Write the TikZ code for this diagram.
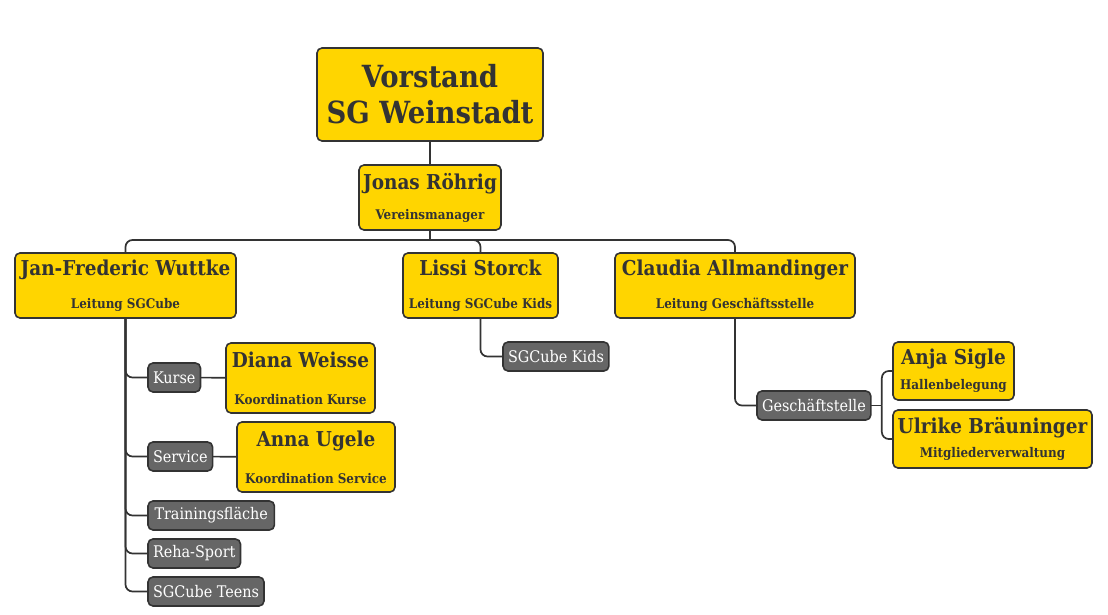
\documentclass[tikz,border=0pt]{standalone}
\usepackage{fontspec}
\setmainfont{DejaVu Serif Condensed}
\definecolor{gelb}{HTML}{FFD500}
\definecolor{grau}{HTML}{666666}
\definecolor{rand}{HTML}{333333}
\newcommand{\namefont}{\fontsize{20.5}{23}\selectfont\bfseries}
\newcommand{\nm}[1]{\raisebox{-2pt}{\namefont #1}}

\begin{document}
\begin{tikzpicture}[x=1pt, y=-1pt,
  every node/.style={outer sep=0pt, text=rand},
  person/.style={draw=rand, fill=gelb, line width=1.6pt, rounded corners=5pt, align=center, inner sep=0pt, font=\fontsize{13.3}{#1}\selectfont\bfseries},
  bereich/.style={draw=rand, fill=grau, text=white, line width=1.6pt, rounded corners=5pt, anchor=west, minimum height=29pt, inner xsep=5pt, font=\fontsize{16}{18}\selectfont},
  linie/.style={draw=rand, line width=1.7pt, rounded corners=7pt}]
\useasboundingbox (0,0) rectangle (1108,615);

\node[person=36, minimum width=226, minimum height=93, font=\fontsize{30.5}{36}\selectfont\bfseries] (vorstand) at (430,94.5) {Vorstand\\SG Weinstadt};

\node[person=32, minimum width=142, minimum height=65] (jonas) at (430,197.5) {\nm{Jonas Röhrig}\\Vereinsmanager};

\node[person=35, minimum width=221, minimum height=65] (jan) at (125.5,285.5) {\nm{Jan-Frederic Wuttke}\\Leitung SGCube};
\node[person=35, minimum width=155, minimum height=65] (lissi) at (480.5,285.5) {\nm{Lissi Storck}\\Leitung SGCube Kids};
\node[person=35, minimum width=240, minimum height=65] (claudia) at (735,285.5) {\nm{Claudia Allmandinger}\\Leitung Geschäftsstelle};

\node[bereich] (kurse) at (148,377.5) {Kurse};
\node[bereich] (service) at (148,456.5) {Service};
\node[bereich, inner xsep=6.5pt] (training) at (148,515.5) {Trainingsfläche};
\node[bereich] (reha) at (148,553.5) {Reha-Sport};
\node[bereich] (teens) at (148,591.5) {SGCube Teens};
\node[bereich] (kids) at (503,356.5) {SGCube Kids};
\node[bereich] (gst) at (757,405.5) {Geschäftstelle};

\node[person=37, minimum width=149, minimum height=70] (diana) at (300.5,378) {{\namefont Diana Weisse}\\Koordination Kurse};
\node[person=37, minimum width=158, minimum height=70] (anna) at (316,457) {{\namefont Anna Ugele}\\Koordination Service};
\node[person=27, minimum width=121, minimum height=58] (anja) at (953.5,371) {\nm{Anja Sigle}\\Hallenbelegung};
\node[person=24, minimum width=199, minimum height=58] (ulrike) at (992.5,439) {{\namefont Ulrike Bräuninger}\\Mitgliederverwaltung};

% Verbindungen
\draw[linie] (vorstand) -- (jonas);
\draw[linie] (jonas.south) -- ++(0,10) coordinate (bus);
\draw[linie] (bus) -| (jan.north);
\draw[linie] (bus) -| (lissi.north);
\draw[linie] (bus) -| (claudia.north);

\foreach \b in {kurse,service,training,reha,teens}
  \draw[linie] (jan.south) |- (\b.west);
\draw[linie] (kurse) -- (diana);
\draw[linie] (service) -- (anna);

\draw[linie] (lissi.south) |- (kids.west);
\draw[linie] (claudia.south) |- (gst.west);
\draw[linie] (gst.east) -- ++(11,0) coordinate (gabel);
\draw[linie] (gabel) |- (anja.west);
\draw[linie] (gabel) |- (ulrike.west);
\end{tikzpicture}
\end{document}
